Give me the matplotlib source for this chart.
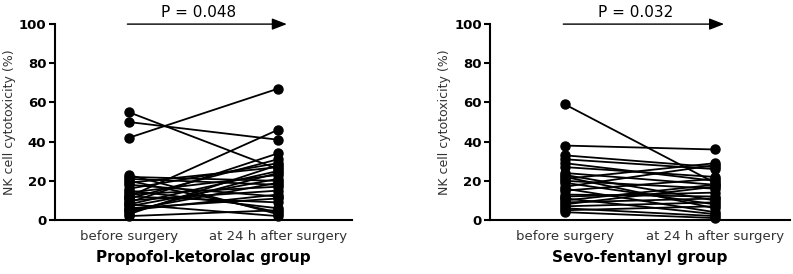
import matplotlib.pyplot as plt

categories = ["before surgery", "at 24 h after surgery"]

# Propofol-ketorolac group: paired values (before, after)
pk_before = [55, 50, 42, 23, 22, 21, 20, 19, 18, 16, 15, 14, 13, 12, 12, 11, 10, 9, 8, 8, 7, 6, 5, 5, 4, 3, 2]
pk_after = [26, 41, 67, 3, 20, 18, 4, 27, 12, 29, 6, 23, 17, 46, 9, 31, 15, 34, 2, 25, 21, 11, 19, 13, 24, 28, 5]

# Sevo-fentanyl group
sf_before = [59, 38, 33, 31, 29, 27, 24, 23, 22, 21, 20, 19, 17, 16, 15, 13, 12, 11, 10, 9, 8, 7, 6, 5, 4]
sf_after = [19, 36, 27, 26, 20, 22, 18, 10, 6, 29, 16, 8, 28, 4, 21, 12, 14, 3, 18, 11, 17, 9, 2, 7, 1]

p_values = ["P = 0.048", "P = 0.032"]
groups = ["Propofol-ketorolac group", "Sevo-fentanyl group"]

fig = plt.figure(figsize=(7.93, 2.74), dpi=100)
axes = [fig.add_axes([0.069, 0.197, 0.375, 0.715]),
        fig.add_axes([0.618, 0.197, 0.378, 0.715])]

for ax, before, after, p, g in zip(axes, [pk_before, sf_before], [pk_after, sf_after], p_values, groups):
    for b, a in zip(before, after):
        ax.plot([0, 1], [b, a], color="black", lw=1.3, marker="o", ms=6.5, clip_on=False)
    ax.set_xlim(-0.5, 1.5)
    ax.set_ylim(0, 100)
    ax.set_yticks(range(0, 101, 20))
    ax.set_xticks([0, 1])
    ax.set_xticklabels(categories, fontsize=9.5, color="#333333")
    ax.tick_params(axis="x", length=0, pad=7)
    ax.tick_params(axis="y", length=4, width=1.5, direction="out", labelsize=9.5, pad=2)
    for lab in ax.get_yticklabels():
        lab.set_fontweight("bold")
    for s in ["top", "right"]:
        ax.spines[s].set_visible(False)
    ax.spines["left"].set_linewidth(1.5)
    ax.spines["bottom"].set_linewidth(1.5)
    ax.set_ylabel("NK cell cytotoxicity (%)", fontsize=9, color="#333333", labelpad=2)
    ax.set_xlabel(g, fontsize=11, fontweight="bold", labelpad=5)
    ax.annotate("", xy=(1.08, 100), xytext=(-0.03, 100), xycoords="data",
                arrowprops=dict(arrowstyle="-|>,head_length=0.9,head_width=0.35", color="black", lw=1.0),
                annotation_clip=False)
    ax.text(0.47, 102, p, ha="center", va="bottom", fontsize=11, clip_on=False)

fig.savefig("out.png", dpi=100)
